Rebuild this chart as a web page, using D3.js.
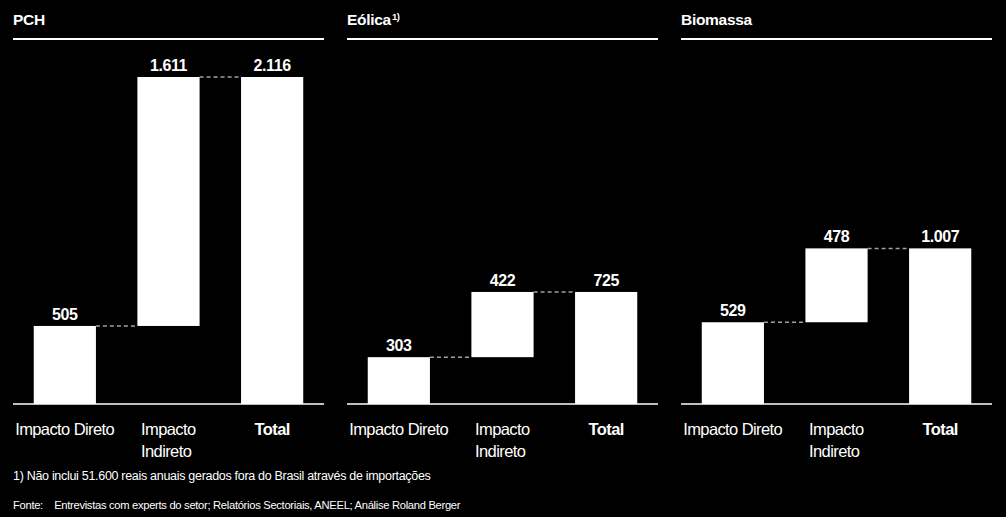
<!DOCTYPE html>
<html><head><meta charset="utf-8">
<script src="https://cdn.jsdelivr.net/npm/d3@7"></script>
<style>
html,body{margin:0;padding:0;background:#000;}
svg{display:block;}
text{font-family:"Liberation Sans",Arial,sans-serif;fill:#fff;}
</style></head>
<body>
<svg id="c" width="1006" height="517"></svg>
<script>
const panels = ["PCH", "Eólica", "Biomassa"];
const categories = ["Impacto Direto", "Impacto Indireto", "Total"];
const direto = [505, 303, 529];
const indireto = [1611, 422, 478];
const total = [2116, 725, 1007];
const footnote = "1)  Não inclui 51.600 reais anuais gerados fora do Brasil através de importações";
const source = "Fonte:    Entrevistas com experts do setor; Relatórios Sectoriais, ANEEL; Análise Roland Berger";

const svg = d3.select("#c");
const W = 1006, H = 517;
svg.append("rect").attr("width", W).attr("height", H).attr("fill", "#000");

const loc = d3.formatLocale({decimal: ",", thousands: ".", grouping: [3], currency: ["R$", ""]});
const fmt = loc.format(",d");

const panelX = d3.scaleBand().domain(panels).range([13, 992]).paddingInner(0.069).paddingOuter(0);
const y = d3.scaleLinear().domain([0, d3.max(total)]).range([404, 77]);

panels.forEach((p, i) => {
  const x0 = panelX(p), x1 = x0 + panelX.bandwidth();
  const g = svg.append("g");
  const x = d3.scaleBand().domain(categories).range([x0, x1]).paddingInner(0.4).paddingOuter(0.2);

  // title
  const t = g.append("text").attr("x", x0).attr("y", 25)
    .attr("font-size", 15.5).attr("font-weight", "bold").attr("letter-spacing", "-0.3").text(p);
  if (p === "Eólica") {
    t.append("tspan").attr("font-size", 9.5).attr("dy", -5).attr("dx", 1).text("1)");
  }
  g.append("line").attr("x1", x0).attr("x2", x1).attr("y1", 39).attr("y2", 39)
    .attr("stroke", "#fff").attr("stroke-width", 2);

  const segs = [
    {cat: categories[0], lo: 0, hi: direto[i], v: direto[i]},
    {cat: categories[1], lo: direto[i], hi: direto[i] + indireto[i], v: indireto[i]},
    {cat: categories[2], lo: 0, hi: total[i], v: total[i]}
  ];

  // connectors
  [[0, 1, direto[i]], [1, 2, total[i]]].forEach(([a, b, val]) => {
    g.append("line")
      .attr("x1", x(categories[a]) + x.bandwidth()).attr("x2", x(categories[b]))
      .attr("y1", y(val)).attr("y2", y(val))
      .attr("stroke", "#a0a0a0").attr("stroke-width", 1.5).attr("stroke-dasharray", "4,3");
  });

  g.selectAll("rect.bar").data(segs).join("rect").attr("class", "bar")
    .attr("x", d => x(d.cat)).attr("width", x.bandwidth())
    .attr("y", d => y(d.hi)).attr("height", d => y(d.lo) - y(d.hi))
    .attr("fill", "#fff");

  g.selectAll("text.val").data(segs).join("text").attr("class", "val")
    .attr("x", d => x(d.cat) + x.bandwidth() / 2).attr("y", d => y(d.hi) - 6)
    .attr("text-anchor", "middle").attr("font-size", 16).attr("font-weight", "bold")
    .attr("letter-spacing", "-0.4")
    .text(d => fmt(d.v));

  // baseline
  g.append("line").attr("x1", x0).attr("x2", x1).attr("y1", 404).attr("y2", 404)
    .attr("stroke", "#fff").attr("stroke-width", 1.5);

  // category labels
  categories.forEach((c, k) => {
    const cx = x(c) + x.bandwidth() / 2;
    const lines = (k === 1) ? ["Impacto", "Indireto"] : [c];
    const tt = g.append("text").attr("y", 435).attr("font-size", 16.5)
      .attr("letter-spacing", "-0.6")
      .attr("font-weight", k === 2 ? "bold" : "normal");
    lines.forEach((l, j) => {
      tt.append("tspan").attr("x", 0).attr("dy", j === 0 ? 0 : 22).text(l);
    });
    const bw = tt.node().getBBox().width;
    tt.selectAll("tspan").attr("x", cx - bw / 2);
  });
});

svg.append("text").attr("x", 13).attr("y", 480).attr("font-size", 12.5)
  .attr("letter-spacing", "-0.3").text(footnote);
svg.append("text").attr("x", 13).attr("y", 509).attr("font-size", 11.2)
  .attr("letter-spacing", "-0.3").attr("xml:space", "preserve").text(source);
</script>
</body></html>
